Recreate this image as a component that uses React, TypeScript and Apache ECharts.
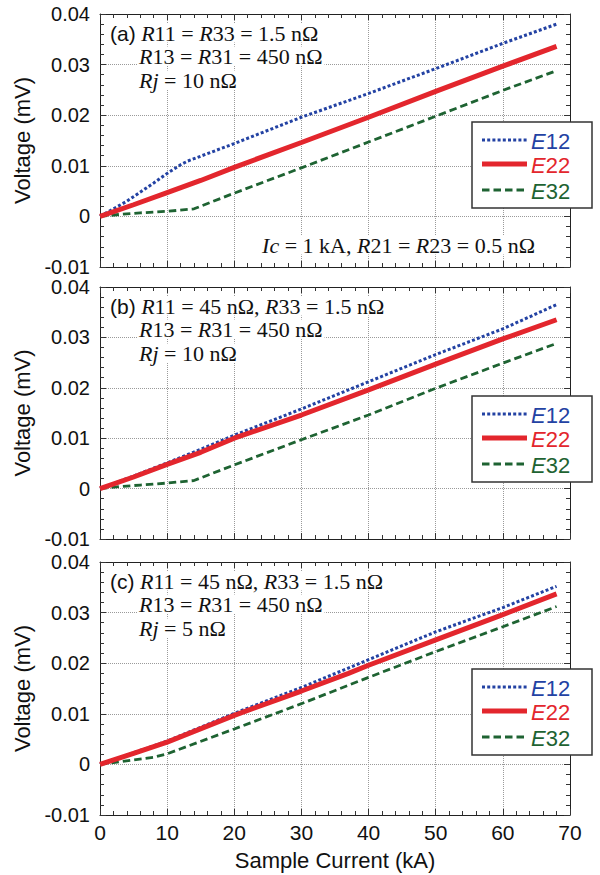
import React, { useEffect, useRef } from "react";
import * as echarts from "echarts";

// ---- Data (kA, mV) ----
const xTicks = [0, 10, 20, 30, 40, 50, 60, 70];
const yTicks = [-0.01, 0, 0.01, 0.02, 0.03, 0.04];

// Panel (a)
const aE12x = [0, 4, 8, 10, 12, 13, 14, 20, 30, 40, 50, 60, 68];
const aE12y = [0, 0.003, 0.0066, 0.0085, 0.0102, 0.0109, 0.0114, 0.0144, 0.0196, 0.0243, 0.0292, 0.0342, 0.038];
const aE22x = [0, 5, 10, 15, 20, 30, 40, 50, 60, 68];
const aE22y = [0, 0.0023, 0.0047, 0.0071, 0.0097, 0.0146, 0.0196, 0.0247, 0.0297, 0.0336];
const aE32x = [0, 3, 6, 10, 14, 20, 30, 40, 50, 60, 68];
const aE32y = [0, 0.0004, 0.0007, 0.001, 0.0015, 0.0046, 0.0096, 0.0147, 0.0198, 0.0249, 0.0288];

// Panel (b)
const bE12x = [0, 5, 10, 15, 20, 30, 40, 50, 60, 68];
const bE12y = [0, 0.0025, 0.0051, 0.0078, 0.0106, 0.0158, 0.0212, 0.0266, 0.0317, 0.0365];
const bE22x = [0, 5, 10, 15, 20, 30, 40, 50, 60, 68];
const bE22y = [0, 0.0023, 0.0048, 0.0072, 0.01, 0.0146, 0.0196, 0.0247, 0.0297, 0.0335];
const bE32x = [0, 3, 6, 10, 14, 20, 30, 40, 50, 60, 68];
const bE32y = [0, 0.0004, 0.0007, 0.0011, 0.0016, 0.0047, 0.0097, 0.0146, 0.0199, 0.0249, 0.0288];

// Panel (c)
const cE12x = [0, 5, 10, 20, 30, 40, 50, 60, 68];
const cE12y = [0, 0.0023, 0.0046, 0.0101, 0.0152, 0.0207, 0.0262, 0.031, 0.0352];
const cE22x = [0, 5, 10, 20, 30, 37, 40, 50, 60, 68];
const cE22y = [0, 0.0022, 0.0044, 0.0097, 0.0145, 0.018, 0.0196, 0.0246, 0.0296, 0.0337];
const cE32x = [0, 5, 8, 10, 20, 30, 40, 50, 60, 68];
const cE32y = [0, 0.0009, 0.0014, 0.0021, 0.007, 0.012, 0.0172, 0.0223, 0.0272, 0.0312];

const seriesNames = ["E12", "E22", "E32"];

const panelLabels = [
  ["{s|(a)} {i|R}11 = {i|R}33 = 1.5 nΩ", "{i|R}13 = {i|R}31 = 450 nΩ", "{i|Rj} = 10 nΩ"],
  ["{s|(b)} {i|R}11 = 45 nΩ, {i|R}33 = 1.5 nΩ", "{i|R}13 = {i|R}31 = 450 nΩ", "{i|Rj} = 10 nΩ"],
  ["{s|(c)} {i|R}11 = 45 nΩ, {i|R}33 = 1.5 nΩ", "{i|R}13 = {i|R}31 = 450 nΩ", "{i|Rj} = 5 nΩ"],
];
const noteA = "{i|Ic} = 1 kA, {i|R}21 = {i|R}23 = 0.5 nΩ";

const COLORS = ["#2342a3", "#e3262d", "#1e6332"];
const SANS = "'Liberation Sans', Arial, Helvetica, sans-serif";
const SERIF = "'Liberation Serif', 'Times New Roman', serif";

const grids = [
  { left: 100, top: 14, width: 470, height: 253 },
  { left: 100, top: 287, width: 470, height: 252 },
  { left: 100, top: 562, width: 470, height: 253 },
];

const lineStyles = [
  { width: 3, type: [3, 2.2] as any },
  { width: 5, type: "solid" as any },
  { width: 2.8, type: [7.5, 4] as any },
];

function zip(xs: number[], ys: number[]) {
  return xs.map((x, i) => [x, ys[i]]);
}

export default function App() {
  const ref = useRef<HTMLDivElement>(null);
  useEffect(() => {
    if (!ref.current) return;
    const chart = echarts.init(ref.current, undefined, { renderer: "svg" });

    const panels = [
      [zip(aE12x, aE12y), zip(aE22x, aE22y), zip(aE32x, aE32y)],
      [zip(bE12x, bE12y), zip(bE22x, bE22y), zip(bE32x, bE32y)],
      [zip(cE12x, cE12y), zip(cE22x, cE22y), zip(cE32x, cE32y)],
    ];

    const xAxes: any[] = [];
    const yAxes: any[] = [];
    const series: any[] = [];
    const graphic: any[] = [];

    const axisLine = { show: true, onZero: false, lineStyle: { color: "#222", width: 1 } };
    const minorTick = { show: true, splitNumber: 5, length: 4, lineStyle: { color: "#333", width: 1 } };
    const axisTick = { show: true, inside: true, length: 6, lineStyle: { color: "#333", width: 1 } };
    const splitLine = { show: true, lineStyle: { color: "#9a9a9a", width: 1, type: [1, 1] } };

    grids.forEach((g, gi) => {
      const last = gi === grids.length - 1;
      xAxes.push({
        type: "value", gridIndex: gi, position: "bottom",
        min: xTicks[0], max: xTicks[xTicks.length - 1], interval: 10,
        axisLine, axisTick, minorTick, splitLine,
        axisLabel: last
          ? { show: true, fontSize: 21, color: "#111", fontFamily: SANS, margin: 9, lineHeight: 16 }
          : { show: false },
        name: last ? "Sample Current (kA)" : "",
        nameLocation: "middle", nameGap: 34,
        nameTextStyle: { fontSize: 22, color: "#111", fontFamily: SANS },
      });
      xAxes.push({
        type: "value", gridIndex: gi, position: "top",
        min: xTicks[0], max: xTicks[xTicks.length - 1], interval: 10,
        axisLine, axisTick, minorTick, splitLine: { show: false }, axisLabel: { show: false },
      });
      yAxes.push({
        type: "value", gridIndex: gi, position: "left",
        min: yTicks[0], max: yTicks[yTicks.length - 1], interval: 0.01,
        axisLine, axisTick, minorTick, splitLine,
        axisLabel: {
          show: true, fontSize: 20, color: "#111", fontFamily: SANS, margin: 10, lineHeight: 15,
          formatter: (v: number) => (Math.abs(v) < 1e-9 ? "0" : v.toFixed(2)),
        },
        name: "Voltage (mV)", nameLocation: "middle", nameGap: 60, nameRotate: 90,
        nameTextStyle: { fontSize: 22, color: "#111", fontFamily: SANS },
      });
      yAxes.push({
        type: "value", gridIndex: gi, position: "right",
        min: yTicks[0], max: yTicks[yTicks.length - 1], interval: 0.01,
        axisLine, axisTick, minorTick, splitLine: { show: false }, axisLabel: { show: false },
      });

      panels[gi].forEach((data, si) => {
        series.push({
          type: "line", name: seriesNames[si] + "_" + gi,
          xAxisIndex: gi * 2, yAxisIndex: gi * 2,
          data, showSymbol: false, symbol: "none", smooth: false,
          lineStyle: { color: COLORS[si], width: lineStyles[si].width, type: lineStyles[si].type, cap: "butt" },
          z: 3 + (si === 1 ? 1 : 0),
        });
      });

      // annotations
      const rich = {
        i: { fontFamily: SERIF, fontSize: 22, fontStyle: "italic", fill: "#111", lineHeight: 19 },
        s: { fontFamily: SANS, fontSize: 21, fill: "#111", lineHeight: 19 },
      };
      const lineYs = [g.top + 19, g.top + 42, g.top + 66];
      const lineXs = [108, 137, 137];
      panelLabels[gi].forEach((txt, li) => {
        graphic.push({
          type: "text", x: lineXs[li], y: lineYs[li], z: 20,
          style: {
            text: txt, fontFamily: SERIF, fontSize: 22, fill: "#111", rich, lineHeight: 19,
            verticalAlign: "middle", align: "left",
            backgroundColor: "#fff", padding: [0, 2, 0, 2],
          },
        });
      });
      if (gi === 0) {
        graphic.push({
          type: "text", x: 537, y: g.top + 231, z: 20,
          style: {
            text: noteA, fontFamily: SERIF, fontSize: 22, fill: "#111", rich, lineHeight: 19,
            align: "right", verticalAlign: "middle",
            backgroundColor: "#fff", padding: [0, 2, 0, 2],
          },
        });
      }

      // legend box
      const by = g.top + (gi === 0 ? 108 : gi === 1 ? 109 : 107);
      graphic.push({
        type: "rect", z: 20,
        shape: { x: 472, y: by, width: 120, height: 86 },
        style: { fill: "#fff", stroke: "#333", lineWidth: 1.5 },
      });
      const rowYs = [by + 18, by + 42, by + 68];
      seriesNames.forEach((nm, si) => {
        graphic.push({
          type: "line", z: 21,
          shape: { x1: 482, y1: rowYs[si], x2: 527, y2: rowYs[si] },
          style: {
            stroke: COLORS[si], lineWidth: lineStyles[si].width,
            lineDash: Array.isArray(lineStyles[si].type) ? lineStyles[si].type : null,
          },
        });
        graphic.push({
          type: "text", z: 21, x: 531, y: rowYs[si] + 1,
          style: {
            text: "{e|E}" + nm.slice(1), fontFamily: SANS, fontSize: 22, fill: COLORS[si],
            verticalAlign: "middle", align: "left", lineHeight: 20,
            rich: { e: { fontFamily: SANS, fontSize: 22, fontStyle: "italic", fill: COLORS[si], lineHeight: 20 } },
          },
        });
      });
    });

    chart.setOption({
      animation: false,
      backgroundColor: "#fff",
      grid: grids.map((g) => ({ ...g, containLabel: false })),
      xAxis: xAxes,
      yAxis: yAxes,
      series,
      graphic: { elements: graphic },
    });
    return () => chart.dispose();
  }, []);
  return (
    <div
      ref={ref}
      style={{ position: "fixed", left: 0, top: 0, width: 600, height: 875, background: "#fff" }}
    />
  );
}
